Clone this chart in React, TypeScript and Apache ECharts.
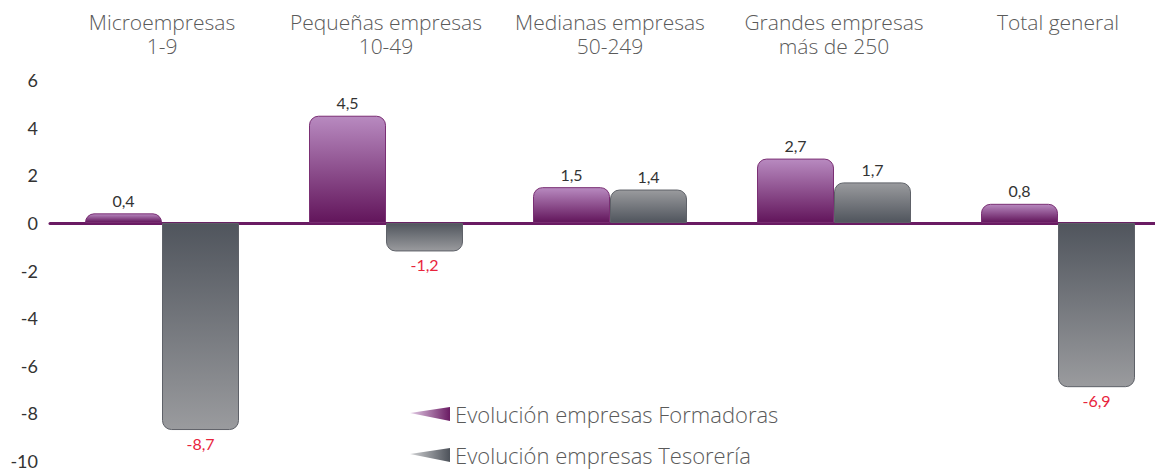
import React, { useEffect, useRef } from "react";
import * as echarts from "echarts";

const categories = [
  "Microempresas\n1-9",
  "Pequeñas empresas\n10-49",
  "Medianas empresas\n50-249",
  "Grandes empresas\nmás de 250",
  "Total general",
];
const formadoras = [0.4, 4.5, 1.5, 2.7, 0.8];
const tesoreria = [-8.7, -1.2, 1.4, 1.7, -6.9];
const seriesNames = ["Evolución empresas Formadoras", "Evolución empresas Tesorería"];
const yTicks = { min: -10, max: 6, interval: 2 };

const grad = (neg: boolean, light: string, dark: string) =>
  new echarts.graphic.LinearGradient(0, 0, 0, 1, [
    { offset: 0, color: neg ? dark : light },
    { offset: 1, color: neg ? light : dark },
  ]);

const fmt = (v: number) => String(v).replace(".", ",");

const makeData = (vals: number[], light: string, dark: string, border: string) =>
  vals.map((v) => {
    const neg = v < 0;
    return {
      value: v,
      itemStyle: {
        color: grad(neg, light, dark),
        borderColor: border,
        borderWidth: 1,
        borderRadius: neg ? [0, 0, 9, 9] : [9, 9, 0, 0],
      },
      label: {
        show: true,
        position: neg ? "bottom" : "top",
        distance: 5,
        color: neg ? "#e8243c" : "#333333",
        fontSize: 16,
        fontFamily: "Lato",
        formatter: () => fmt(v),
      },
    };
  });

const wedge = "path://M0,6 L40,0 L40,14 Z";
const legendText = { fontSize: 22, color: "#5a5a5a", fontFamily: "Open Sans", fontWeight: 300 };

export default function App() {
  const ref = useRef<HTMLDivElement>(null);
  useEffect(() => {
    document.body.style.margin = "0";
    document.body.style.overflow = "hidden";
    const chart = echarts.init(ref.current!, null, { renderer: "svg" });
    chart.setOption({
      animation: false,
      backgroundColor: "#ffffff",
      grid: { left: 50, right: 0, top: 80, bottom: 9, containLabel: false },
      legend: [
        {
          left: 410,
          top: 403,
          padding: 0,
          itemWidth: 40,
          itemHeight: 14,
          itemGap: 4,
          icon: wedge,
          textStyle: legendText,
          data: [
            {
              name: seriesNames[0],
              itemStyle: {
                color: new echarts.graphic.LinearGradient(0, 0, 1, 0, [
                  { offset: 0, color: "#e3cde6" },
                  { offset: 1, color: "#6a1b63" },
                ]),
              },
            },
          ],
        },
        {
          left: 410,
          top: 444,
          padding: 0,
          itemWidth: 40,
          itemHeight: 14,
          itemGap: 4,
          icon: wedge,
          textStyle: legendText,
          data: [
            {
              name: seriesNames[1],
              itemStyle: {
                color: new echarts.graphic.LinearGradient(0, 0, 1, 0, [
                  { offset: 0, color: "#d0d1d3" },
                  { offset: 1, color: "#4d525a" },
                ]),
              },
            },
          ],
        },
      ],
      xAxis: [
        {
          type: "category",
          data: categories,
          position: "bottom",
          axisLine: { onZero: true, lineStyle: { color: "#6a1b63", width: 3 } },
          axisTick: { show: false },
          axisLabel: { show: false },
        },
        {
          type: "category",
          data: categories,
          position: "top",
          axisLine: { show: false, onZero: false },
          axisTick: { show: false },
          axisLabel: {
            show: true,
            interval: 0,
            margin: 22,
            fontSize: 21,
            lineHeight: 24,
            color: "#5a5a5a",
            fontFamily: "Open Sans",
            fontWeight: 300,
            formatter: (v: string) => (v.includes("\n") ? v : v + "\n "),
          },
        },
      ],
      yAxis: {
        type: "value",
        min: yTicks.min,
        max: yTicks.max,
        interval: yTicks.interval,
        splitLine: { show: false },
        axisLine: { show: false },
        axisTick: { show: false },
        axisLabel: { fontSize: 18, color: "#333333", fontFamily: "Lato", margin: 12 },
      },
      series: [
        {
          name: seriesNames[0],
          type: "bar",
          barWidth: 77,
          barGap: "0%",
          itemStyle: { color: "#7b2a72" },
          data: makeData(formadoras, "#b88ac0", "#62155b", "#7a2f74"),
        },
        {
          name: seriesNames[1],
          type: "bar",
          barWidth: 77,
          barGap: "0%",
          itemStyle: { color: "#5a5e66" },
          data: makeData(tesoreria, "#9a9b9e", "#50555d", "#5e6168"),
        },
      ],
    });
    return () => chart.dispose();
  }, []);
  return <div ref={ref} style={{ width: 1170, height: 470 }} />;
}
